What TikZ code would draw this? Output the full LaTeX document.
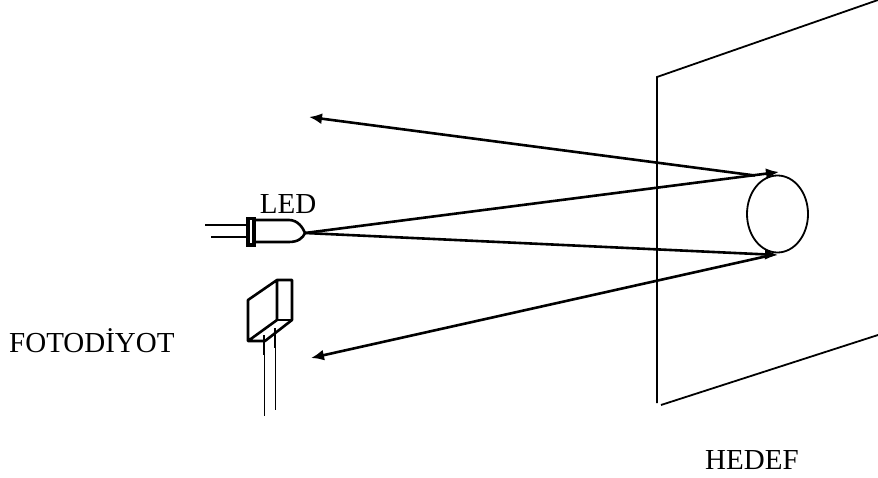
\documentclass[tikz,border=0pt]{standalone}
\usepackage{fontspec}
\setmainfont{Liberation Serif}
\usetikzlibrary{arrows.meta,shapes.geometric}
\tikzset{
  px/.style={x=1pt,y=-1pt},
  ln/.style={line width=1.8pt,black},
  thick ln/.style={line width=2.6pt,black},
  thin ln/.style={line width=1pt,black},
  ray/.style={line width=2.6pt,black,-{Latex[length=13pt,width=11pt]}},
  lbl/.style={font=\fontsize{29pt}{31pt}\selectfont,inner sep=0pt,text=black}
}
\begin{document}
\begin{tikzpicture}[px]
\useasboundingbox (0,0) rectangle (878,478);
% target wall
\draw[ln] (878,0) -- (657,77) -- (657,403);
\draw[ln] (661,405) -- (878,335);
\node[draw,ellipse,ln,minimum width=61pt,minimum height=77pt,inner sep=0pt] (spot) at (777.5,214) {};
% LED
\draw[thick ln] (205,225) -- (248,225);
\draw[thick ln] (211,237) -- (248,237);
\draw[line width=3.2pt] (248,218.5) rectangle (254,245);
\draw[thick ln] (254,220) -- (289,220) .. controls (298,220) and (303,228) .. (305,233) .. controls (303,238) and (298,242) .. (289,242) -- (254,242);
\coordinate (ledtip) at (305,233);
\node[lbl] (led) at (288,204) {LED};
% photodiode
\draw[thick ln,line join=round] (277,280) -- (248,300) -- (248,341) -- (265,341) -- (292,320) -- (292,280) -- (277,280) -- (277,320) -- (248,341);
\draw[thick ln] (277,320) -- (292,320);
\draw[line width=2.8pt] (264,335) -- (264,355);
\draw[line width=2.8pt] (275,328) -- (275,348);
\draw[thin ln] (264,355) -- (264,416);
\draw[thin ln] (275,348) -- (275,410);
\node[lbl,anchor=west] (foto) at (9,341) {FOTODİYOT};
\node[lbl,anchor=west] (hedef) at (705,460) {HEDEF};
% rays
\coordinate (topend) at (309,117);
\coordinate (botend) at (311,358);
\coordinate (hitA) at (755,175.5);
\coordinate (hitB) at (772,255);
\coordinate (arrA) at (779,172);
\coordinate (arrB) at (778,255);
\draw[ray] (hitA) -- (topend);
\draw[ray] (ledtip) -- (arrA);
\draw[ray] (ledtip) -- (arrB);
\draw[ray] (hitB) -- (botend);
\end{tikzpicture}
\end{document}
